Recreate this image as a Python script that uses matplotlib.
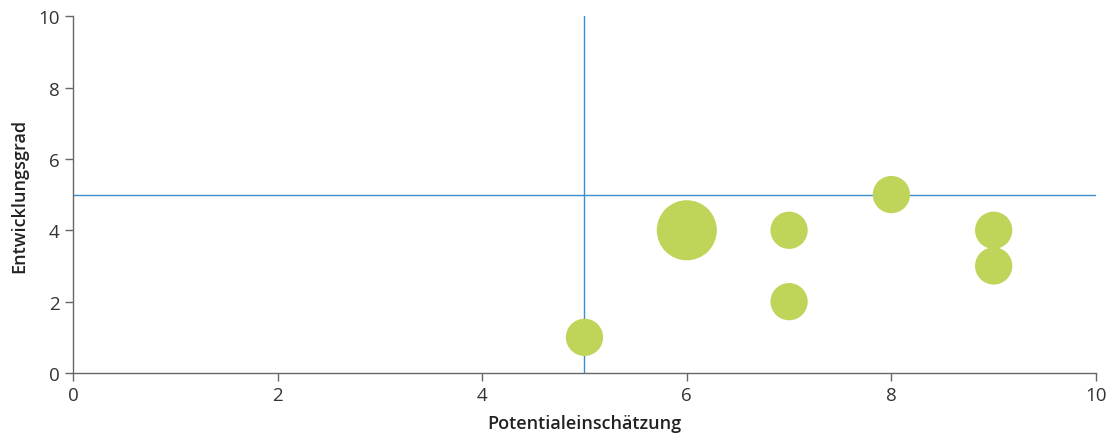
import matplotlib.pyplot as plt

potential = [5, 6, 7, 7, 8, 9, 9]
entwicklung = [1, 4, 4, 2, 5, 4, 3]
gewicht = [1, 2.6, 1, 1, 1, 1, 1]

plt.rcParams['font.family'] = ['Open Sans', 'DejaVu Sans']

fig = plt.figure(figsize=(11.18, 4.39), dpi=100)
ax = fig.add_axes([0.0653, 0.148, 0.915, 0.813])

ax.axvline(5, color='#3a8fd0', lw=1.0, zorder=1)
ax.axhline(5, color='#3a8fd0', lw=1.0, zorder=1)
ax.scatter(potential, entwicklung, s=[g * 720 for g in gewicht],
           color='#bed55a', edgecolors='none', zorder=3, clip_on=False)

ax.set_xlim(0, 10)
ax.set_ylim(0, 10)
ax.set_xticks(range(0, 11, 2))
ax.set_yticks(range(0, 11, 2))
for s in ['top', 'right']:
    ax.spines[s].set_visible(False)
for s in ['left', 'bottom']:
    ax.spines[s].set_color('#666666')
    ax.spines[s].set_linewidth(1.0)
ax.tick_params(colors='#666666', labelcolor='#333333', labelsize=13.5, length=6, width=1)

ax.set_xlabel('Potentialeinschätzung', fontsize=13, fontweight='semibold', color='#222222', labelpad=7)
ax.set_ylabel('Entwicklungsgrad', fontsize=13, fontweight='semibold', color='#222222', labelpad=7)

fig.savefig('out.png', dpi=100)
